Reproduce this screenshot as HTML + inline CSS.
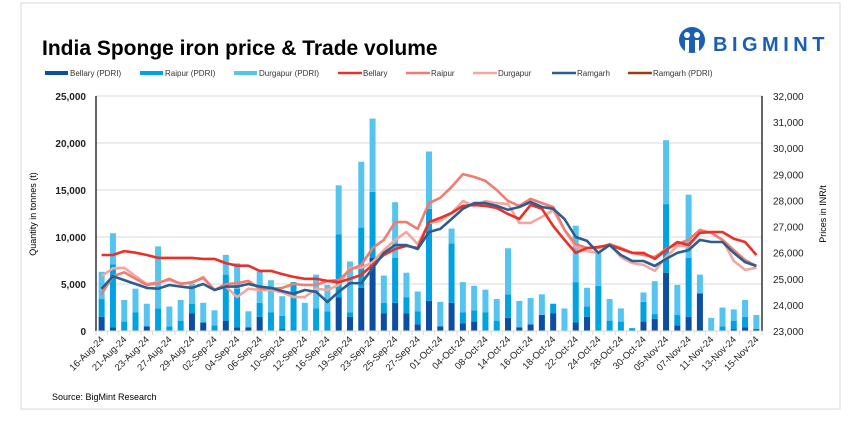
<!DOCTYPE html>
<html><head><meta charset="utf-8">
<style>
body{margin:0;background:#fff;font-family:"Liberation Sans",sans-serif;}
svg text{font-family:"Liberation Sans",sans-serif;}
</style></head>
<body>
<svg id="chart" width="864" height="431" viewBox="0 0 864 431" xmlns="http://www.w3.org/2000/svg">
<rect x="21" y="3" width="819" height="406" fill="#fff" stroke="#d9d9d9" stroke-width="1"/>
<text x="42" y="55" font-size="21" font-weight="bold" fill="#000">India Sponge iron price &amp; Trade volume</text>
<g>
<circle cx="692" cy="40" r="13" fill="#1a5fb4"/>
<circle cx="687" cy="35" r="3" fill="#fff"/><circle cx="697" cy="35" r="3" fill="#fff"/>
<rect x="685" y="40" width="4" height="12" fill="#fff"/><rect x="695" y="40" width="4" height="12" fill="#fff"/>
<text x="713" y="51" font-size="20" font-weight="bold" fill="#1a5fb4" letter-spacing="4.5">BIGMINT</text>
</g>
<g id="legend" font-size="8" fill="#333"></g>
<g id="grid"></g>
<g id="bars"></g>
<g id="lines"></g>
<g id="axes"></g>
<text transform="translate(36,214) rotate(-90)" text-anchor="middle" font-size="9" fill="#000">Quantity in tonnes (t)</text>
<text transform="translate(826,214) rotate(-90)" text-anchor="middle" font-size="9" fill="#000">Prices in INR/t</text>
<text x="52" y="400" font-size="9" fill="#000">Source: BigMint Research</text>
</svg>
<script>
const categories=["16-Aug-24","20-Aug-24","21-Aug-24","22-Aug-24","23-Aug-24","26-Aug-24","27-Aug-24","28-Aug-24","29-Aug-24","30-Aug-24","02-Sep-24","03-Sep-24","04-Sep-24","05-Sep-24","06-Sep-24","09-Sep-24","10-Sep-24","11-Sep-24","12-Sep-24","13-Sep-24","16-Sep-24","18-Sep-24","19-Sep-24","20-Sep-24","23-Sep-24","24-Sep-24","25-Sep-24","26-Sep-24","27-Sep-24","30-Sep-24","01-Oct-24","03-Oct-24","04-Oct-24","07-Oct-24","08-Oct-24","11-Oct-24","14-Oct-24","15-Oct-24","16-Oct-24","17-Oct-24","18-Oct-24","21-Oct-24","22-Oct-24","23-Oct-24","24-Oct-24","25-Oct-24","28-Oct-24","29-Oct-24","30-Oct-24","04-Nov-24","05-Nov-24","06-Nov-24","07-Nov-24","08-Nov-24","11-Nov-24","12-Nov-24","13-Nov-24","14-Nov-24","15-Nov-24"];
const bellaryPdri=[1500,400,0,0,500,0,0,0,1900,900,0,1100,400,400,1500,0,200,0,0,0,0,3600,1500,4600,7800,1900,3000,1900,700,3200,500,3000,800,1000,0,0,1400,400,700,1700,1900,0,900,1500,0,0,0,0,1000,1300,6200,600,1500,4000,0,0,200,400,200];
const raipurPdri=[1900,6700,1000,2000,0,2400,500,1100,1000,0,600,4900,4100,0,1500,2000,1400,5200,0,2400,2100,6700,500,6400,7000,1100,4800,1700,1400,9800,0,6300,1200,1200,2000,1100,2500,0,0,0,1000,0,4300,1100,4800,1100,1000,300,2100,500,7300,1100,6300,0,0,500,900,1100,0];
const durgapurPdri=[2900,3300,2300,2500,2400,6600,2100,2200,2100,2100,1600,2100,2700,1700,3300,3400,2100,0,3000,3600,2800,5200,5400,7000,7800,2900,5900,2600,2100,6100,2600,1600,3200,2600,2400,2300,4900,2800,2800,2200,0,2400,6000,2000,3500,2300,1400,0,1000,3500,6800,3200,6700,2000,1400,2000,1200,1800,1500];
const bellaryPrice=[25910,25910,26060,26000,25910,25800,25800,25800,25800,25760,25760,25600,25500,25500,25300,25300,25180,25070,25000,25000,24920,24870,25000,25150,25530,25910,26140,26260,26180,27170,27330,27520,27790,27830,27790,27710,27480,27290,27830,27680,27020,26490,25990,26180,26220,26290,26140,25990,25990,25760,26100,26410,26290,26760,26790,26790,26530,26410,25910];
const raipurPrice=[24420,25100,25250,25000,24760,24830,25000,24800,24870,25030,24570,24800,24830,24920,24620,24620,24650,24800,24760,24760,24920,24950,25340,25530,26180,26490,27170,27170,26910,27900,28100,28520,29010,28900,28750,28400,27980,27790,28060,27900,27750,26870,26330,26180,26180,26330,26180,25990,25910,25830,26140,26330,26490,26870,26760,26490,26100,25720,25490];
const durgapurPrice=[25100,25400,25420,25100,24800,24870,24950,24830,24830,25070,24570,24700,24300,24620,24570,24570,24480,24300,24300,24620,24570,24760,25420,25420,25640,26100,26490,26790,26330,27140,27210,27520,27980,27790,27980,27900,27860,27140,27140,27370,27630,26870,26220,26060,25990,26330,25830,25600,25530,25300,25830,26260,26260,26790,26760,26490,25680,25340,25420];
const ramgarhPrice=[24620,25100,24950,24800,24650,24620,24760,24700,24650,24800,24570,24700,24700,24800,24700,24650,24530,24420,24570,24500,24110,24500,24830,24830,25400,25990,26290,26290,26140,26790,26910,27290,27680,27900,27900,27790,27640,27750,27940,27750,27680,27290,26600,26450,25990,26290,25910,25680,25680,25490,25760,25990,26100,26490,26410,26410,25990,25640,25490];
const leftTicks=[0,5000,10000,15000,20000,25000];
const rightTicks=[23000,24000,25000,26000,27000,28000,29000,30000,31000,32000];

const NS="http://www.w3.org/2000/svg";
const X0=96,X1=762,Y0=331,Y1=96;
const n=categories.length, step=(X1-X0)/n;
const xC=i=>X0+step*(i+0.5);
const yL=v=>Y0-(v/25000)*(Y0-Y1);
const yR=v=>Y0-((v-23000)/9000)*(Y0-Y1);
function mk(tag,attrs,parent){const e=document.createElementNS(NS,tag);for(const k in attrs)e.setAttribute(k,attrs[k]);parent.appendChild(e);return e;}
const grid=document.getElementById('grid'),bars=document.getElementById('bars'),lines=document.getElementById('lines'),axes=document.getElementById('axes'),legend=document.getElementById('legend');
const fmt=v=>v.toLocaleString('en-US');
leftTicks.forEach(t=>{
  if(t>0){const g=mk('line',{x1:X0,x2:X1,y1:yL(t),y2:yL(t),stroke:'#d9d9d9','stroke-width':1},grid);
  
  }
  const tx=mk('text',{x:86,y:yL(t)+4,'text-anchor':'end','font-size':10,'font-weight':'bold',fill:'#222'},axes);tx.textContent=fmt(t);
  
  
});
rightTicks.forEach(t=>{
  const tx=mk('text',{x:773,y:yR(t)+4,'font-size':10,fill:'#222'},axes);tx.textContent=fmt(t);
  
  
});
const al=mk('line',{x1:X0,x2:X0,y1:Y1,y2:Y0,stroke:'#000','stroke-width':1.2},axes);


const ar=mk('line',{x1:X1,x2:X1,y1:Y1,y2:Y0,stroke:'#000','stroke-width':1.2},axes);


const ax=mk('line',{x1:X0,x2:X1,y1:Y0,y2:Y0,stroke:'#d9d9d9','stroke-width':1},axes);


for(let i=0;i<=n;i++){const tk=mk('line',{x1:X0+step*i,x2:X0+step*i,y1:Y0,y2:Y0+4,stroke:'#d9d9d9'},axes);
  
  }
categories.forEach((c,i)=>{
  if(i%2)return;
  const x=xC(i)+3,y=Y0+9;
  const tx=mk('text',{x:x,y:y,'text-anchor':'end','font-size':9.5,fill:'#222',transform:`rotate(-45 ${x} ${y})`},axes);tx.textContent=c;
  
  
});
const bw=6;
categories.forEach((c,i)=>{
  let base=0;
  [[bellaryPdri,'#0b4ea2','bar-bellary-pdri'],[raipurPdri,'#00a2e1','bar-raipur-pdri'],[durgapurPdri,'#56c4f1','bar-durgapur-pdri']].forEach(([arr,col,nm])=>{
    const v=arr[i];if(v<=0)return;
    const r=mk('rect',{x:xC(i)-bw/2,y:yL(base+v),width:bw,height:yL(base)-yL(base+v),fill:col},bars);
    
    
    base+=v;
  });
});
[[durgapurPrice,'#f4a6a0','line-durgapur'],[raipurPrice,'#f07d72','line-raipur'],[bellaryPrice,'#e83129','line-bellary'],[ramgarhPrice,'#2b5e8e','line-ramgarh']].forEach(([arr,col,nm])=>{
  const d=arr.map((v,i)=>(i?'L':'M')+xC(i).toFixed(1)+','+yR(v).toFixed(1)).join(' ');
  const p=mk('path',{d:d,fill:'none',stroke:col,'stroke-width':2.6,'stroke-linejoin':'round'},lines);
  
  
});
const legItems=[['Bellary (PDRI)','#0b4ea2',45,1],['Raipur (PDRI)','#00a2e1',140,1],['Durgapur (PDRI)','#56c4f1',234,1],['Bellary','#e83129',338,0],['Raipur','#f07d72',406,0],['Durgapur','#f4a6a0',473,0],['Ramgarh','#2b5e8e',552,0],['Ramgarh (PDRI)','#9c3d0e',628,0]];
legItems.forEach(([lab,col,x,box])=>{
  const g=mk('g',{},legend);
  
  
  if(box)mk('rect',{x:x,y:71,width:23,height:4,fill:col},g);
  else mk('line',{x1:x,x2:x+24,y1:73,y2:73,stroke:col,'stroke-width':2.5},g);
  const t=mk('text',{x:x+25,y:76,'font-size':8,fill:'#333'},g);t.textContent=lab;
});
</script>
</body></html>
